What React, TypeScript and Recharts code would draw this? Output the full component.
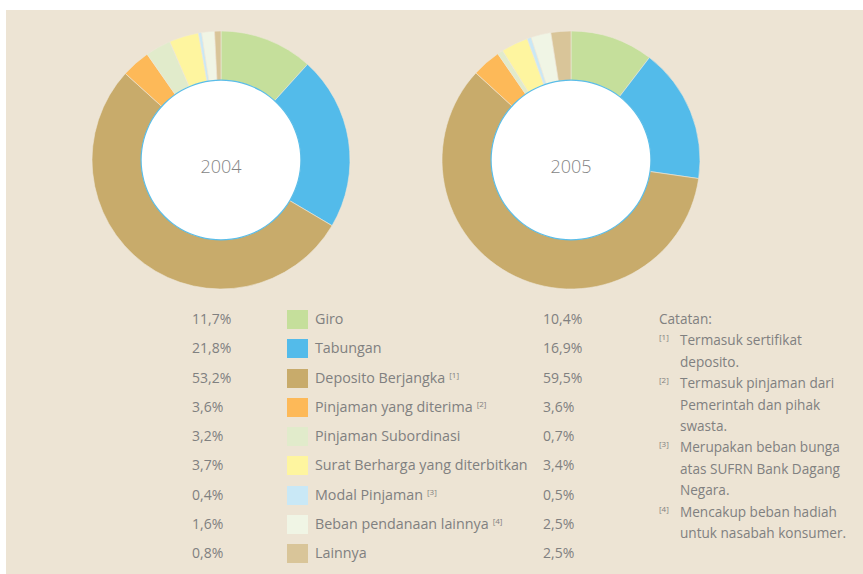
import React from 'react';
import { PieChart, Pie, Cell } from 'recharts';

const categories = [
  'Giro',
  'Tabungan',
  'Deposito Berjangka',
  'Pinjaman yang diterima',
  'Pinjaman Subordinasi',
  'Surat Berharga yang diterbitkan',
  'Modal Pinjaman',
  'Beban pendanaan lainnya',
  'Lainnya',
];
const footnoteRefs = ['', '', '[1]', '[2]', '', '', '[3]', '[4]', ''];
const values2004 = [11.7, 21.8, 53.2, 3.6, 3.2, 3.7, 0.4, 1.6, 0.8];
const values2005 = [10.4, 16.9, 59.5, 3.6, 0.7, 3.4, 0.5, 2.5, 2.5];
const colors = ['#c5df9b', '#53bbea', '#c8ab6b', '#fdb958', '#e1ebcb', '#fef59f', '#c9e8f6', '#f0f5e5', '#d9c599'];
const years = ['2004', '2005'];

const notesTitle = 'Catatan:';
const notes = [
  { ref: '[1]', lines: ['Termasuk sertifikat', 'deposito.'] },
  { ref: '[2]', lines: ['Termasuk pinjaman dari', 'Pemerintah dan pihak', 'swasta.'] },
  { ref: '[3]', lines: ['Merupakan beban bunga', 'atas SUFRN Bank Dagang', 'Negara.'] },
  { ref: '[4]', lines: ['Mencakup beban hadiah', 'untuk nasabah konsumer.'] },
];

const fmt = (v: number) => v.toFixed(1).replace('.', ',') + '%';

const data2004 = categories.map((name, i) => ({ name, value: values2004[i] }));
const data2005 = categories.map((name, i) => ({ name, value: values2005[i] }));
const hole = [{ name: 'hole', value: 1 }];

const FONT = '"Open Sans", "Noto Sans", sans-serif';
const TEXT = '#808080';
const CX = [221, 571];
const CY = 160;

export default function App() {
  const rowTop = 308;
  const rowStep = 29.25;
  return (
    <div style={{ position: 'absolute', left: 0, top: 0, width: 863, height: 574, background: '#ffffff', overflow: 'hidden' }}>
      <div style={{ position: 'absolute', left: 6, top: 10, width: 857, height: 564, background: '#ede4d4' }} />
      <div style={{ position: 'absolute', left: 0, top: 0 }}>
        <PieChart width={863} height={300} margin={{ top: 0, right: 0, bottom: 0, left: 0 }}>
          {[data2004, data2005].map((d, k) => (
            <Pie
              key={'p' + k}
              data={d}
              dataKey="value"
              cx={CX[k]}
              cy={CY}
              innerRadius={79}
              outerRadius={129}
              startAngle={90}
              endAngle={-270}
              stroke="#efe8da"
              strokeWidth={0.6}
              isAnimationActive={false}
            >
              {d.map((_, i) => (
                <Cell key={i} fill={colors[i]} />
              ))}
            </Pie>
          ))}
          {years.map((y, k) => (
            <Pie
              key={'h' + k}
              data={hole}
              dataKey="value"
              cx={CX[k]}
              cy={CY}
              innerRadius={0}
              outerRadius={80}
              startAngle={90}
              endAngle={-270}
              fill="#ffffff"
              stroke="none"
              isAnimationActive={false}
            />
          ))}
          {years.map((y, k) => (
            <Pie
              key={'r' + k}
              data={hole}
              dataKey="value"
              cx={CX[k]}
              cy={CY}
              innerRadius={79.3}
              outerRadius={80.5}
              startAngle={90}
              endAngle={-270}
              fill="#5bbde8"
              stroke="none"
              isAnimationActive={false}
            />
          ))}
        </PieChart>
      </div>
      {years.map((y, k) => (
        <div
          key={'y' + y}
          style={{ position: 'absolute', left: CX[k] - 40, top: 154, width: 80, textAlign: 'center', fontFamily: FONT, fontSize: 18, fontWeight: 300, color: '#858585', lineHeight: '24px' }}
        >
          {y}
        </div>
      ))}
      {categories.map((c, i) => {
        const top = rowTop + i * rowStep;
        return (
          <React.Fragment key={c}>
            <div style={{ position: 'absolute', left: 192, top: top, height: 21, lineHeight: '21px', fontFamily: FONT, fontSize: 14, color: TEXT }}>
              {fmt(values2004[i])}
            </div>
            <div style={{ position: 'absolute', left: 287, top: top + 2, width: 21, height: 19, background: colors[i] }} />
            <div style={{ position: 'absolute', left: 315, top: top, height: 21, lineHeight: '21px', fontFamily: FONT, fontSize: 14.3, color: TEXT, whiteSpace: 'nowrap' }}>
              {c}
              {footnoteRefs[i] ? (
                <span style={{ fontSize: 8, verticalAlign: 'top', position: 'relative', top: -3, marginLeft: 4 }}>{footnoteRefs[i]}</span>
              ) : null}
            </div>
            <div style={{ position: 'absolute', left: 543, top: top, height: 21, lineHeight: '21px', fontFamily: FONT, fontSize: 14, color: TEXT }}>
              {fmt(values2005[i])}
            </div>
          </React.Fragment>
        );
      })}
      <div style={{ position: 'absolute', left: 659, top: 308, fontFamily: FONT, fontSize: 13.6, color: TEXT, lineHeight: '21.4px' }}>
        <div>{notesTitle}</div>
        {notes.map((n) => (
          <div key={n.ref} style={{ position: 'relative', paddingLeft: 21 }}>
            <span style={{ position: 'absolute', left: 0, top: -3, fontSize: 8 }}>{n.ref}</span>
            {n.lines.map((l) => (
              <div key={l} style={{ whiteSpace: 'nowrap' }}>{l}</div>
            ))}
          </div>
        ))}
      </div>
    </div>
  );
}
